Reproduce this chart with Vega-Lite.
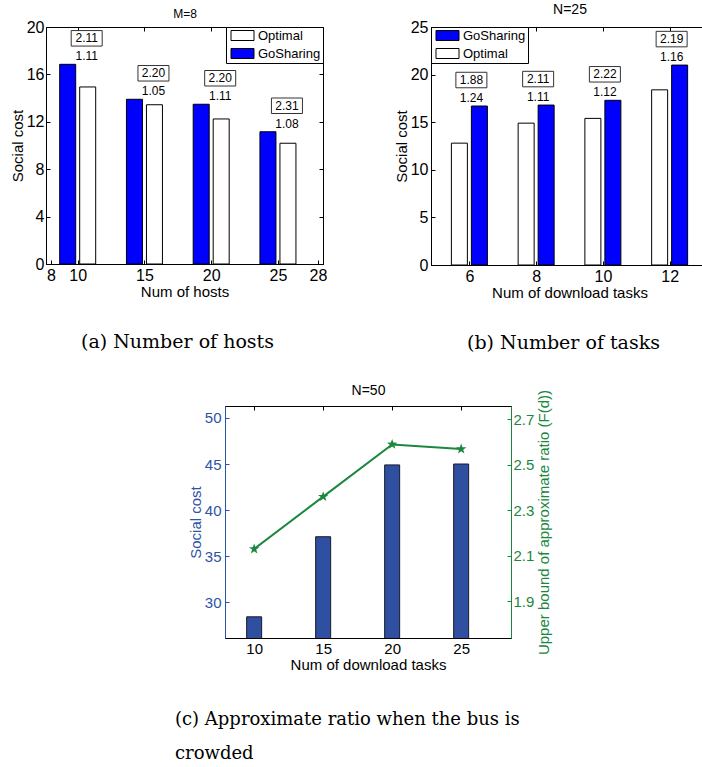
{
  "$schema": "https://vega.github.io/schema/vega-lite/v6.json",
  "background": "white",
  "padding": {"left": 9, "top": 2, "right": 0, "bottom": 0},
  "config": {
    "view": {"stroke": null},
    "font": "Liberation Sans",
    "axis": {
      "labelFont": "Liberation Sans", "titleFont": "Liberation Sans",
      "labelFontSize": 16, "titleFontSize": 15, "titleFontWeight": "normal",
      "labelColor": "black", "titleColor": "black", "domainColor": "black", "tickColor": "black",
      "grid": false, "labelFlush": false, "labelOverlap": false,
      "tickSize": -4, "labelPadding": 7, "titlePadding": 1, "domainWidth": 1, "tickWidth": 1
    },
    "title": {"font": "DejaVu Serif", "fontSize": 18, "fontWeight": "normal", "color": "black"},
    "legend": {"title": null, "padding": 2, "strokeColor": "black", "fillColor": "white", "symbolType": "M-2.3,-1H2.3V1H-2.3Z", "symbolSize": 100, "symbolStrokeColor": "black", "symbolStrokeWidth": 1, "symbolOffset": 8, "labelOffset": 9, "labelFontSize": 13, "labelFont": "Liberation Sans", "rowPadding": 3, "cornerRadius": 0, "offset": 0}
  },
  "spacing": 29,
  "vconcat": [
    {
      "spacing": 65,
      "hconcat": [
        {
          "width": 277, "height": 237,
          "view": {"stroke": "black", "strokeWidth": 1},
          "title": {"text": "(a) Number of hosts", "orient": "bottom", "frame": "group", "anchor": "middle", "dx": -7, "offset": 34, "fontSize": 19},
          "data": {"values": [
            {"hosts": 10, "method": "GoSharing", "cost": 16.85, "ratio": "1.11", "bound": "2.11"},
            {"hosts": 10, "method": "Optimal", "cost": 14.94},
            {"hosts": 15, "method": "GoSharing", "cost": 13.9, "ratio": "1.05", "bound": "2.20"},
            {"hosts": 15, "method": "Optimal", "cost": 13.44},
            {"hosts": 20, "method": "GoSharing", "cost": 13.48, "ratio": "1.11", "bound": "2.20"},
            {"hosts": 20, "method": "Optimal", "cost": 12.24},
            {"hosts": 25, "method": "GoSharing", "cost": 11.16, "ratio": "1.08", "bound": "2.31"},
            {"hosts": 25, "method": "Optimal", "cost": 10.19}
          ]},
          "layer": [
            {
              "transform": [{"filter": "datum.method === 'GoSharing'"}],
              "mark": {"type": "bar", "width": 16, "xOffset": -10, "stroke": "black", "strokeWidth": 1},
              "encoding": {
                "x": {"field": "hosts", "type": "quantitative", "scale": {"domain": [8, 28], "nice": false, "zero": false}, "axis": {"values": [8, 10, 15, 20, 25, 28], "title": "Num of hosts", "titlePadding": 1}},
                "y": {"field": "cost", "type": "quantitative", "scale": {"domain": [0, 20], "nice": false}, "axis": {"values": [0, 4, 8, 12, 16, 20], "title": "Social cost", "labelPadding": 6}},
                "color": {"field": "method", "type": "nominal", "scale": {"domain": ["Optimal", "GoSharing"], "range": ["#ffffff", "#0000ff"]}, "legend": {"orient": "top-right", "values": ["Optimal", "GoSharing"]}}
              }
            },
            {
              "transform": [{"filter": "datum.method === 'Optimal'"}],
              "mark": {"type": "bar", "width": 16, "xOffset": 10, "stroke": "black", "strokeWidth": 1},
              "encoding": {
                "x": {"field": "hosts", "type": "quantitative", "axis": {"orient": "top", "values": [10, 15, 20, 25], "labels": false, "title": "M=8", "titleFontSize": 12, "titlePadding": 6}},
                "y": {"field": "cost", "type": "quantitative", "axis": {"orient": "right", "values": [4, 8, 12, 16], "labels": false, "title": null}},
                "color": {"field": "method", "type": "nominal", "scale": {"domain": ["Optimal", "GoSharing"], "range": ["#ffffff", "#0000ff"]}}
              }
            },
            {
              "transform": [{"filter": "datum.method === 'GoSharing'"}],
              "mark": {"type": "point", "shape": "M-1,-0.5H1V0.5H-1Z", "size": 961, "filled": true, "fill": "white", "stroke": "#333333", "strokeWidth": 1, "opacity": 1, "xOffset": 9, "yOffset": -26},
              "encoding": {
                "x": {"field": "hosts", "type": "quantitative", "axis": null},
                "y": {"field": "cost", "type": "quantitative", "axis": null}
              }
            },
            {
              "transform": [{"filter": "datum.method === 'GoSharing'"}],
              "mark": {"type": "text", "dx": 9, "dy": -26, "fontSize": 12, "baseline": "middle", "align": "center", "color": "black"},
              "encoding": {
                "x": {"field": "hosts", "type": "quantitative", "axis": null},
                "y": {"field": "cost", "type": "quantitative", "axis": null},
                "text": {"field": "bound"}
              }
            },
            {
              "transform": [{"filter": "datum.method === 'GoSharing'"}],
              "mark": {"type": "text", "dx": 9, "dy": -8, "fontSize": 12, "baseline": "middle", "align": "center", "color": "black"},
              "encoding": {
                "x": {"field": "hosts", "type": "quantitative", "axis": null},
                "y": {"field": "cost", "type": "quantitative", "axis": null},
                "text": {"field": "ratio"}
              }
            }
          ],
          "resolve": {"axis": {"x": "independent", "y": "independent"}}
        },
        {
          "width": 277, "height": 238,
          "view": {"stroke": "black", "strokeWidth": 1},
          "title": {"text": "(b) Number of tasks", "orient": "bottom", "frame": "group", "anchor": "middle", "dx": -6, "offset": 34, "fontSize": 19},
          "data": {"values": [
            {"tasks": 6, "method": "Optimal", "cost": 12.8},
            {"tasks": 6, "method": "GoSharing", "cost": 16.7, "ratio": "1.24", "bound": "1.88"},
            {"tasks": 8, "method": "Optimal", "cost": 14.9},
            {"tasks": 8, "method": "GoSharing", "cost": 16.8, "ratio": "1.11", "bound": "2.11"},
            {"tasks": 10, "method": "Optimal", "cost": 15.4},
            {"tasks": 10, "method": "GoSharing", "cost": 17.3, "ratio": "1.12", "bound": "2.22"},
            {"tasks": 12, "method": "Optimal", "cost": 18.4},
            {"tasks": 12, "method": "GoSharing", "cost": 21.0, "ratio": "1.16", "bound": "2.19"}
          ]},
          "layer": [
            {
              "transform": [{"filter": "datum.method === 'GoSharing'"}],
              "mark": {"type": "bar", "width": 16, "xOffset": 10, "stroke": "black", "strokeWidth": 1},
              "encoding": {
                "x": {"field": "tasks", "type": "quantitative", "scale": {"domain": [5, 13], "nice": false, "zero": false}, "axis": {"values": [6, 8, 10, 12], "title": "Num of download tasks", "titlePadding": 1}},
                "y": {"field": "cost", "type": "quantitative", "scale": {"domain": [0, 25], "nice": false}, "axis": {"values": [0, 5, 10, 15, 20, 25], "title": "Social cost", "labelPadding": 7}},
                "color": {"field": "method", "type": "nominal", "scale": {"domain": ["GoSharing", "Optimal"], "range": ["#0000ff", "#ffffff"]}, "legend": {"orient": "top-left", "values": ["GoSharing", "Optimal"]}}
              }
            },
            {
              "transform": [{"filter": "datum.method === 'Optimal'"}],
              "mark": {"type": "bar", "width": 16, "xOffset": -10, "stroke": "black", "strokeWidth": 1},
              "encoding": {
                "x": {"field": "tasks", "type": "quantitative", "axis": {"orient": "top", "values": [6, 8, 10, 12], "labels": false, "title": "N=25", "titleFontSize": 14, "titlePadding": 10}},
                "y": {"field": "cost", "type": "quantitative", "axis": {"orient": "right", "values": [5, 10, 15, 20], "labels": false, "title": null}},
                "color": {"field": "method", "type": "nominal", "scale": {"domain": ["GoSharing", "Optimal"], "range": ["#0000ff", "#ffffff"]}}
              }
            },
            {
              "transform": [{"filter": "datum.method === 'GoSharing'"}],
              "mark": {"type": "point", "shape": "M-1,-0.5H1V0.5H-1Z", "size": 961, "filled": true, "fill": "white", "stroke": "#333333", "strokeWidth": 1, "opacity": 1, "xOffset": 2, "yOffset": -26},
              "encoding": {
                "x": {"field": "tasks", "type": "quantitative", "axis": null},
                "y": {"field": "cost", "type": "quantitative", "axis": null}
              }
            },
            {
              "transform": [{"filter": "datum.method === 'GoSharing'"}],
              "mark": {"type": "text", "dx": 2, "dy": -26, "fontSize": 12, "baseline": "middle", "align": "center", "color": "black"},
              "encoding": {
                "x": {"field": "tasks", "type": "quantitative", "axis": null},
                "y": {"field": "cost", "type": "quantitative", "axis": null},
                "text": {"field": "bound"}
              }
            },
            {
              "transform": [{"filter": "datum.method === 'GoSharing'"}],
              "mark": {"type": "text", "dx": 2, "dy": -8, "fontSize": 12, "baseline": "middle", "align": "center", "color": "black"},
              "encoding": {
                "x": {"field": "tasks", "type": "quantitative", "axis": null},
                "y": {"field": "cost", "type": "quantitative", "axis": null},
                "text": {"field": "ratio"}
              }
            }
          ],
          "resolve": {"axis": {"x": "independent", "y": "independent"}}
        }
      ]
    },
    {
      "spacing": 0,
      "hconcat": [
        {
          "width": 128, "height": 10,
          "data": {"values": [{}]},
          "mark": {"type": "point", "opacity": 0},
          "encoding": {}
        },
        {
          "width": 286, "height": 232,
          "view": {"stroke": "black", "strokeWidth": 1},
          "title": {"text": ["(c) Approximate ratio when the bus is", "crowded"], "orient": "bottom", "frame": "group", "anchor": "start", "align": "left", "dx": -50, "offset": 39, "lineHeight": 34},
          "data": {"values": [
            {"tasks": 10, "cost": 28.4, "bound": 2.13},
            {"tasks": 15, "cost": 37.1, "bound": 2.36},
            {"tasks": 20, "cost": 44.9, "bound": 2.59},
            {"tasks": 25, "cost": 45.0, "bound": 2.57}
          ]},
          "layer": [
            {
              "mark": {"type": "bar", "width": 15, "fill": "#2f4fa0", "stroke": "#1a1a2a", "strokeWidth": 1, "clip": true},
              "encoding": {
                "x": {"field": "tasks", "type": "quantitative", "scale": {"domain": [8.25, 28.25], "nice": false, "zero": false}, "axis": {"values": [10, 15, 20, 25], "title": "Num of download tasks", "titlePadding": 1, "labelFontSize": 15}},
                "y": {"field": "cost", "type": "quantitative", "scale": {"domain": [26.1, 51.3], "nice": false, "zero": false}, "axis": {"values": [30, 35, 40, 45, 50], "title": "Social cost", "labelFontSize": 15, "labelPadding": 8, "labelColor": "#2e52a6", "titleColor": "#2e52a6", "domainColor": "#2e52a6", "tickColor": "#2e52a6"}}
              }
            },
            {
              "mark": {"type": "line", "color": "#1b873f", "strokeWidth": 2, "point": {"shape": "M0,-1L0.235,-0.324L0.951,-0.309L0.38,0.124L0.588,0.809L0,0.4L-0.588,0.809L-0.38,0.124L-0.951,-0.309L-0.235,-0.324Z", "size": 121, "filled": true, "color": "#1b873f", "opacity": 1}},
              "encoding": {
                "x": {"field": "tasks", "type": "quantitative", "axis": {"orient": "top", "values": [10, 15, 20, 25], "labels": false, "title": "N=50", "titleFontSize": 14, "titlePadding": 8}},
                "y": {"field": "bound", "type": "quantitative", "scale": {"domain": [1.738, 2.759], "nice": false, "zero": false}, "axis": {"orient": "right", "values": [1.9, 2.1, 2.3, 2.5, 2.7], "format": ".1f", "title": "Upper bound of approximate ratio (F(d))", "titleAngle": 270, "titleBaseline": "top", "titlePadding": 3, "labelFontSize": 15, "labelPadding": 6, "labelColor": "#1b873f", "titleColor": "#1b873f", "domainColor": "#1b873f", "tickColor": "#1b873f"}}
              }
            }
          ],
          "resolve": {"scale": {"y": "independent"}, "axis": {"x": "independent"}}
        }
      ]
    }
  ]
}
